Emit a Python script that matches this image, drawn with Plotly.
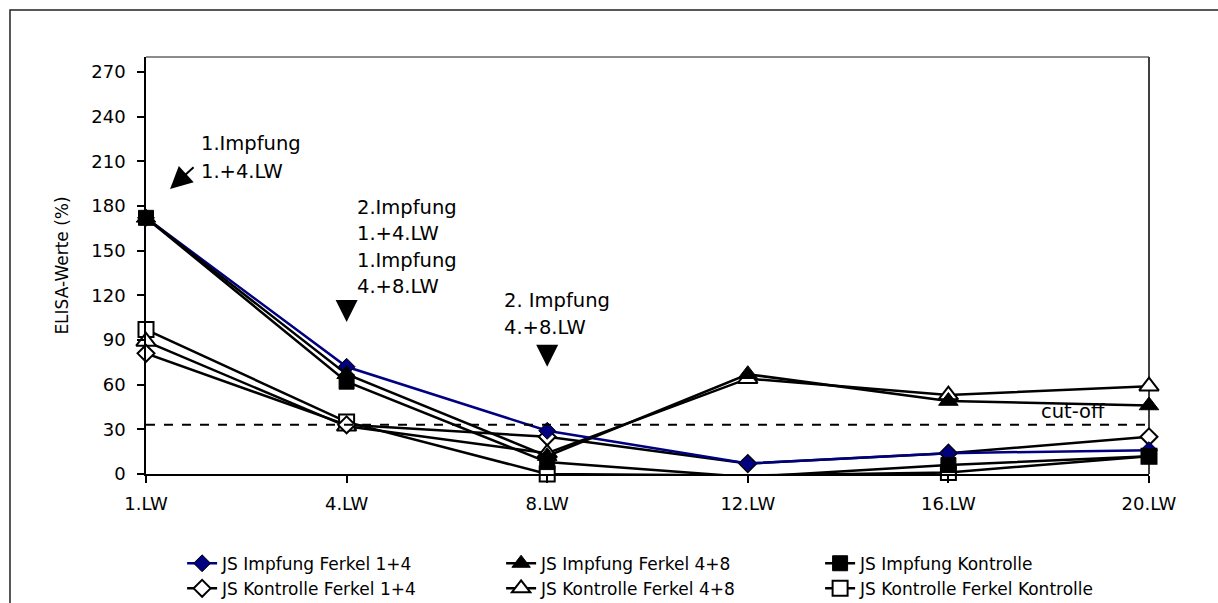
import plotly.graph_objects as go

# Sampling weeks (Lebenswochen)
weeks = ["1.LW", "4.LW", "8.LW", "12.LW", "16.LW", "20.LW"]

# ELISA values (%) per group
impf_ferkel_14 = [172, 72, 29, 7, 14, 16]
impf_ferkel_48 = [172, 67, 12, 67, 49, 46]
impf_kontrolle = [172, 62, 8, -2, 6, 12]
kontr_ferkel_14 = [81, 33, 25, 7, 14, 25]
kontr_ferkel_48 = [89, 32, 14, 64, 53, 59]
kontr_kontrolle = [97, 35, 0, -1, 1, 12]

cut_off = 33
y_ticks = list(range(0, 271, 30))

FONT = "DejaVu Sans"
NAVY = "#000080"

series = [
    # name, values, line colour, symbol, fill, legend rank
    ("JS Kontrolle Ferkel Kontrolle", kontr_kontrolle, "black", "square", "white", 6),
    ("JS Kontrolle Ferkel 4+8", kontr_ferkel_48, "black", "triangle-up", "white", 5),
    ("JS Kontrolle Ferkel 1+4", kontr_ferkel_14, "black", "diamond", "white", 4),
    ("JS Impfung Ferkel 1+4", impf_ferkel_14, NAVY, "diamond", NAVY, 1),
    ("JS Impfung Ferkel 4+8", impf_ferkel_48, "black", "triangle-up", "black", 2),
    ("JS Impfung Kontrolle", impf_kontrolle, "black", "square", "black", 3),
]
sizes = {"square": 15, "triangle-up": 17, "diamond": 13}

fig = go.Figure()
for name, vals, color, sym, fill, rank in series:
    fig.add_trace(go.Scatter(
        x=weeks, y=vals, name=name, mode="lines+markers",
        line=dict(color=color, width=2.5),
        marker=dict(symbol=sym, size=sizes[sym], color=fill,
                    line=dict(color="black", width=2 if fill == "white" else 1)),
        legendrank=rank, cliponaxis=False,
    ))

# cut-off reference line
fig.add_shape(type="line", xref="paper", x0=0, x1=1, yref="y", y0=cut_off, y1=cut_off,
              line=dict(color="black", width=2, dash="dash"))

text_font = dict(family=FONT, size=19.5, color="black")
notes = [
    (0.265, 221.6, "1.Impfung"),
    (0.265, 203.0, "1.+4.LW"),
    (1.04, 179.0, "2.Impfung"),
    (1.04, 161.4, "1.+4.LW"),
    (1.04, 143.3, "1.Impfung"),
    (1.04, 126.0, "4.+8.LW"),
    (1.775, 116.4, "2. Impfung"),
    (1.775, 98.7, "4.+8.LW"),
]
for x, y, t in notes:
    fig.add_annotation(x=x, y=y, text=t, showarrow=False, xanchor="left",
                       yanchor="middle", font=text_font)

fig.add_annotation(x=4.79, y=41.8, text="cut-off", showarrow=False, xanchor="right",
                   yanchor="middle", font=text_font)

# vaccination arrows
arrows = [(0.12, 191.4, 25, -23), (1.0, 102, 0, -21), (2.0, 72, 0, -21)]
for x, y, ax, ay in arrows:
    fig.add_annotation(x=x, y=y, text="", showarrow=True, ax=ax, ay=ay,
                       arrowhead=2, arrowwidth=2, arrowsize=2.2, arrowcolor="black")

# plot-area frame and outer chart border
fig.add_shape(type="line", xref="paper", yref="paper", x0=0, x1=1, y0=1, y1=1,
              line=dict(color="#8c8c8c", width=2), layer="below")
fig.add_shape(type="line", xref="paper", yref="paper", x0=1, x1=1, y0=0, y1=1,
              line=dict(color="#404040", width=2), layer="below")
fig.add_shape(type="rect", xref="paper", yref="paper", x0=-0.1356, x1=1.3, y0=-0.7, y1=1.1127,
              line=dict(color="#222222", width=1.5), layer="below")

fig.update_layout(
    width=1218, height=603,
    margin=dict(l=146, r=69, t=57, b=129),
    paper_bgcolor="white", plot_bgcolor="white",
    font=dict(family=FONT, color="black"),
    showlegend=True,
    legend=dict(orientation="h", xref="paper", x=0.036, yref="container", y=0.095,
                xanchor="left", yanchor="top",
                entrywidth=274, entrywidthmode="pixels", traceorder="normal",
                font=dict(family=FONT, size=17, color="black"), bgcolor="rgba(0,0,0,0)"),
    xaxis=dict(type="category", range=[0, 5], showgrid=False, zeroline=False,
               showline=True, linecolor="black", linewidth=1.5,
               ticks="outside", ticklen=7, tickcolor="black", tickwidth=1.5,
               tickfont=dict(family=FONT, size=18), ticklabelstandoff=6),
    yaxis=dict(range=[0, 280], tickvals=y_ticks, showgrid=False, zeroline=False,
               showline=True, linecolor="black", linewidth=1.5,
               ticks="outside", ticklen=7, tickcolor="black", tickwidth=1.5,
               tickfont=dict(family=FONT, size=18), ticklabelstandoff=8,
               title=dict(text="ELISA-Werte (%)", font=dict(family=FONT, size=17), standoff=18)),
)

fig.write_html("out.html")
